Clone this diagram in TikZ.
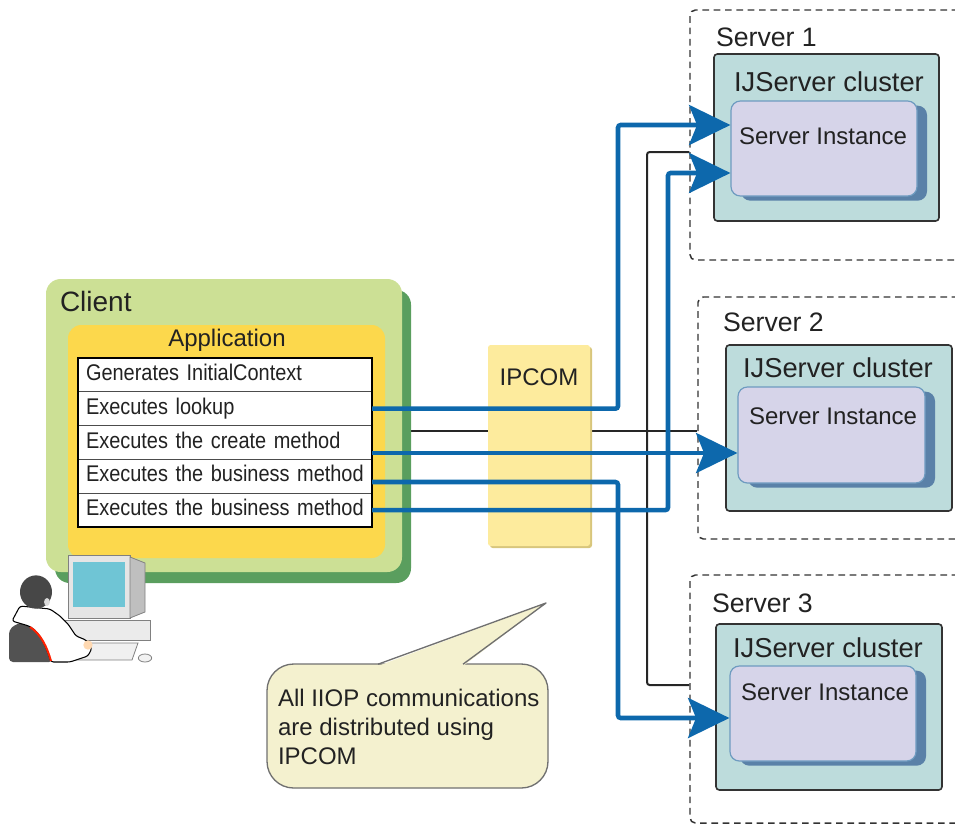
\documentclass[tikz,border=0pt]{standalone}
\usepackage{fontspec}
\setmainfont{Liberation Sans}
\newfontfamily\rowfont[FakeStretch=0.88]{Liberation Sans}
\usetikzlibrary{arrows.meta,fit,shadows,calc}
\definecolor{clientgreen}{HTML}{CCE095}
\definecolor{clientshade}{HTML}{5A9E5E}
\definecolor{appyellow}{HTML}{FCD84C}
\definecolor{ipcomfill}{HTML}{FDEB9D}
\definecolor{ipcomshade}{HTML}{D8C67C}
\definecolor{clusterfill}{HTML}{BDDCDC}
\definecolor{instfill}{HTML}{D6D4E9}
\definecolor{instedge}{HTML}{6E9BC0}
\definecolor{instshade}{HTML}{5A81A8}
\definecolor{flowblue}{HTML}{0D68AC}
\definecolor{notefill}{HTML}{F4F1CF}
\definecolor{noteedge}{HTML}{707070}
\definecolor{screencyan}{HTML}{6FC5D5}
\definecolor{inktext}{HTML}{222222}
\begin{document}
\begin{tikzpicture}[x=0.75pt,y=-0.75pt,
  lbl/.style={inner sep=0pt, outer sep=0pt, text=inktext},
  big/.style={lbl, font=\fontsize{20}{24}\selectfont},
  mid/.style={lbl, font=\fontsize{18}{21.75}\selectfont},
  srv/.style={draw=black!80, dash pattern=on 5pt off 3.5pt, line width=1.1pt,
    rounded corners=4pt, inner sep=0pt},
  cluster/.style={draw=black!80, line width=1.2pt, fill=clusterfill,
    rounded corners=2.5pt, inner sep=0pt},
  inst/.style={draw=instedge, line width=0.9pt, fill=instfill, rounded corners=7pt,
    inner sep=0pt, drop shadow={shadow xshift=7.5pt, shadow yshift=-3.5pt,
    fill=instshade, opacity=1}},
  row/.style={draw=black!70, line width=0.75pt, fill=white, anchor=north west,
    minimum height=25.35pt, text width=208.5pt, inner xsep=6pt, inner ysep=0pt,
    outer sep=0pt, align=left, text=inktext,
    font=\rowfont\fontsize{17}{19}\selectfont, text height=12pt, text depth=3.5pt},
  flow/.style={draw=flowblue, line width=3.4pt, rounded corners=2pt,
    -{Stealth[length=31pt, width=30pt, inset=6pt]}},
  bus/.style={draw=black!85, line width=1.5pt, rounded corners=2pt},
]
\useasboundingbox (0,0) rectangle (955,825);
\clip (0,0) rectangle (955,825);

% servers (dashed outlines)
\node[srv, fit={(690,10) (975,260)}] (s1) {};
\node[srv, fit={(698,297) (975,539)}] (s2) {};
\node[srv, fit={(690,575) (975,823)}] (s3) {};
\node[big, anchor=west] (s1lbl) at (716,37) {Server 1};
\node[big, anchor=west] (s2lbl) at (723,322) {Server 2};
\node[big, anchor=west] (s3lbl) at (712,603) {Server 3};

% black IIOP bus behind the client and IPCOM
\coordinate (k0) at (410,431);
\coordinate (kb) at (647,152);
\coordinate (kc) at (647,685);
\draw[bus] (k0) -- (s2.west |- k0);
\draw[bus] (s1.west |- kb) -- (kb) -- (kc) -- (s3.west |- kc);

% client
\node[fit={(46,279) (402,572)}, inner sep=0pt, fill=clientgreen, rounded corners=11pt,
  drop shadow={shadow xshift=6.75pt, shadow yshift=-8.25pt, fill=clientshade, opacity=1}] (client) {};
\node[lbl, font=\fontsize{21}{24}\selectfont, anchor=west] (clientlbl) at (60,301) {Client};
\node[fit={(68,325) (385,558)}, inner sep=0pt, fill=appyellow, rounded corners=10pt] (app) {};
\node[mid] (applbl) at (227,340) {Application};

% application steps
\node[row] (r1) at (78,358) {Generates InitialContext};
\node[row] (r2) at (r1.south west) {Executes lookup};
\node[row] (r3) at (r2.south west) {Executes the create method};
\node[row] (r4) at (r3.south west) {Executes the business method};
\node[row] (r5) at (r4.south west) {Executes the business method};
\draw[black, line width=1.4pt] (r1.north west) rectangle (r5.south east);

% IPCOM
\node[fit={(488,345) (590,546)}, inner sep=0pt, fill=ipcomfill, rounded corners=2pt,
  drop shadow={shadow xshift=1.5pt, shadow yshift=-1.5pt, fill=ipcomshade, opacity=1}] (ipcom) {};
\node[mid] (ipcomlbl) at (539,377) {IPCOM};

% IJServer clusters and server instances
\node[cluster, fit={(714,54) (939,221)}] (c1) {};
\node[cluster, fit={(726,345) (952,511)}] (c2) {};
\node[cluster, fit={(716,624) (942,790)}] (c3) {};
\node[big, font=\fontsize{20.5}{24}\selectfont, anchor=west] at (734,82) {IJServer cluster};
\node[big, font=\fontsize{20.5}{24}\selectfont, anchor=west] at (743,368) {IJServer cluster};
\node[big, font=\fontsize{20.5}{24}\selectfont, anchor=west] at (733,648) {IJServer cluster};
\node[inst, fit={(731,101) (917,196)}] (i1) {};
\node[inst, fit={(738,387) (925,483)}] (i2) {};
\node[inst, fit={(730,666) (916,761)}] (i3) {};
\node[mid, anchor=west] at (739,136) {Server Instance};
\node[mid, anchor=west] at (749,416) {Server Instance};
\node[mid, anchor=west] at (741,692) {Server Instance};

% IIOP requests distributed by IPCOM
\coordinate (b1) at (618,125);
\coordinate (b3) at (618,482);
\coordinate (b4) at (668,173);
\draw[flow] (r2.east) -| (b1) -- (i1.west |- b1);
\draw[flow] (r3.east |- 0,453) -- (i2.west |- 0,453);
\draw[flow] (r4.east |- b3) -- (b3) |- (i3.west |- 0,718);
\draw[flow] (r5.east) -| (b4) -- (i1.west |- b4);

% note balloon
\node[fit={(267,664) (548,788)}, inner sep=0pt, fill=notefill, draw=noteedge,
  line width=1pt, rounded corners=20pt] (note) {};
\coordinate (tip) at (546,603);
\fill[notefill] (378,666) -- (tip) -- (463,666) -- cycle;
\draw[noteedge, line width=1pt, line join=round] (378,664.2) -- (tip) -- (463,664.2);
\node[mid, anchor=north west, align=left] (notetext) at (278,689)
  {All IIOP communications\\are distributed using\\IPCOM};

% workstation
\filldraw[fill=black!10, draw=black!50, line width=0.6pt] (68,555) rectangle (130,618);
\filldraw[fill=black!25, draw=black!50, line width=0.6pt]
  (130,557) -- (145,563) -- (145,612) -- (130,618) -- cycle;
\fill[screencyan] (73,562) rectangle (125,607);
\filldraw[fill=black!8, draw=black!50, line width=0.6pt] (62,620) rectangle (150,640);
\filldraw[fill=black!6, draw=black!50, line width=0.6pt]
  (84,643) -- (138,643) -- (132,660) -- (74,660) -- cycle;
\filldraw[fill=black!5, draw=black!50, line width=0.6pt] (145,658) ellipse [x radius=5pt, y radius=3pt];

% user seated at the workstation
\fill[black!68, rounded corners=3pt]
  (9,630) .. controls (18,622) and (32,620) .. (40,623) -- (53,662) -- (9,662) -- cycle;
\filldraw[fill=white, draw=black, line width=0.8pt, rounded corners=2pt]
  (20,606) -- (12,621) -- (29,626) .. controls (40,633) and (46,646) .. (51,662)
  -- (70,662) -- (88,656) -- (92,648) -- (86,640) -- (76,636) -- (68,624)
  -- (60,616) -- (50,609) -- cycle;
\draw[red!75!orange, line width=1.5pt] (30,627) .. controls (41,634) and (47,647) .. (51,661);
\fill[orange!30!white] (88,645) circle [radius=3.5pt];
\fill[black!72] (36,592) ellipse [x radius=12pt, y radius=12.5pt];
\fill[black!15] (47,602) ellipse [x radius=2.2pt, y radius=3pt];
\end{tikzpicture}
\end{document}
